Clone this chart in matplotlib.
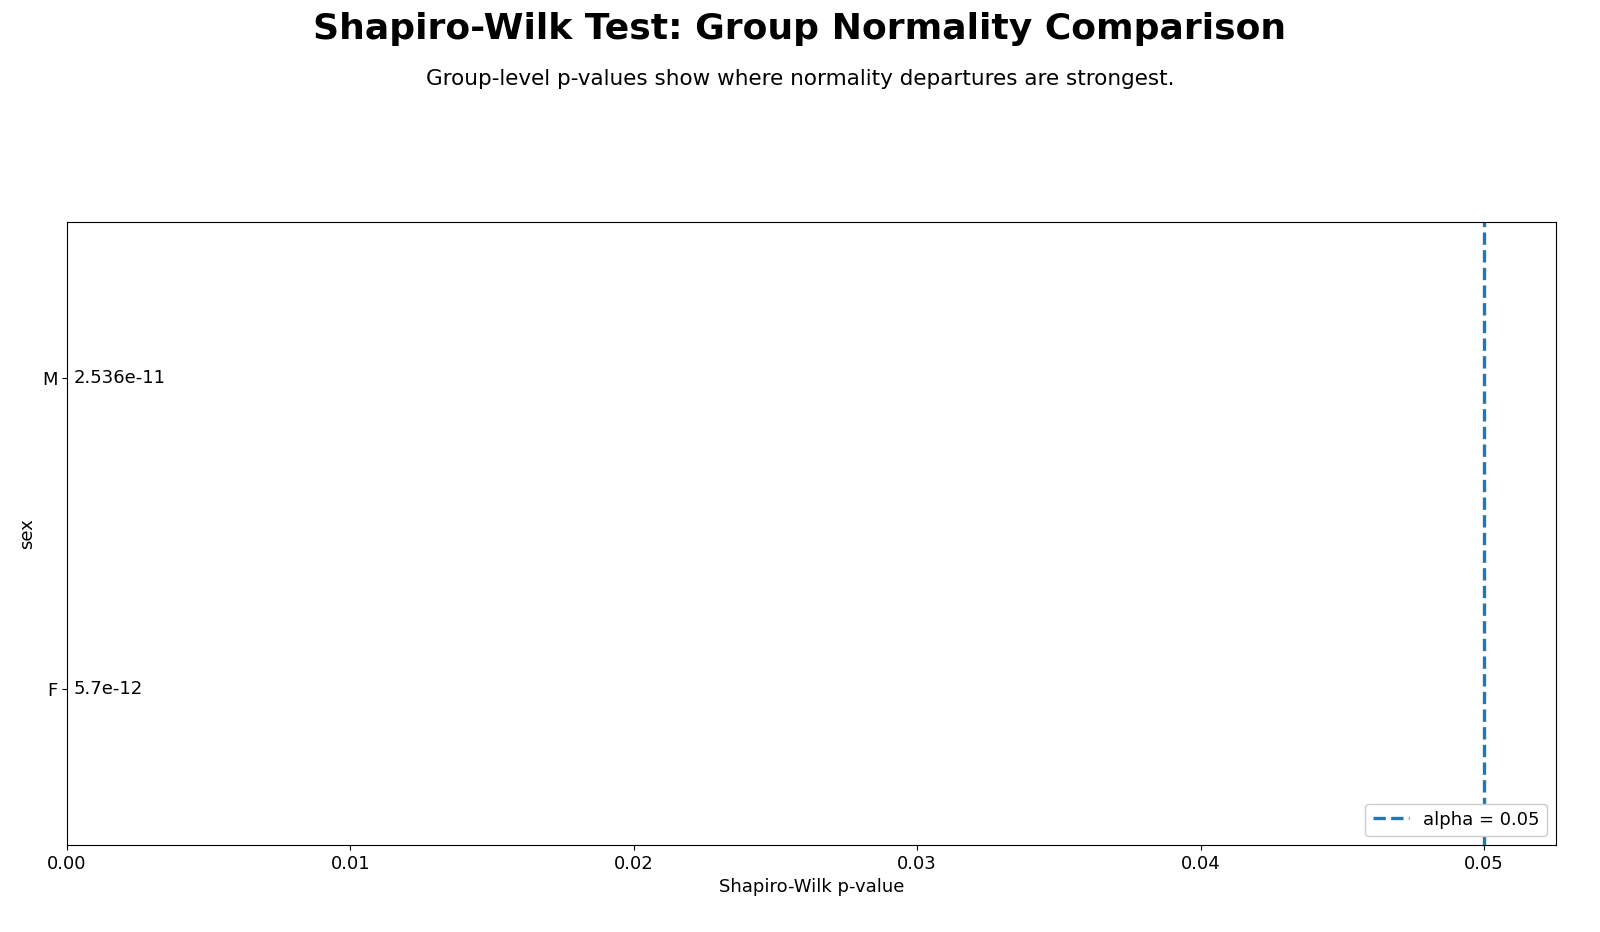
import matplotlib
matplotlib.use("Agg")
import matplotlib.pyplot as plt

groups = ["F", "M"]
pvalues = [5.7e-12, 2.536e-11]
labels = ["5.7e-12", "2.536e-11"]
alpha = 0.05

fs = 13
fig = plt.figure(figsize=(16, 9.32), dpi=100)
ax = fig.add_axes([67/1600, 1-845/932, (1556-67)/1600, (845-222)/932])
ax.barh(range(len(groups)), pvalues, color="#1f77b4", height=0.6)
for i, (p, t) in enumerate(zip(pvalues, labels)):
    ax.annotate(t, (p, i), xytext=(5, 0), textcoords="offset points", va="center", fontsize=fs)
ax.axvline(alpha, ls="--", lw=2.4, color="#1f77b4", label="alpha = 0.05")
ax.set_yticks(range(len(groups)))
ax.set_yticklabels(groups, fontsize=fs)
ax.tick_params(axis="x", labelsize=fs)
ax.set_xlim(0, 0.05254)
ax.set_ylim(-0.5, 1.5)
ax.set_xlabel("Shapiro-Wilk p-value", fontsize=fs)
ax.set_ylabel("sex", fontsize=fs)
ax.legend(loc="lower right", fontsize=fs, framealpha=1)
fig.text(0.5, 1-29/932, "Shapiro-Wilk Test: Group Normality Comparison", ha="center", va="center", fontsize=26, fontweight="bold")
fig.text(0.5, 1-79/932, "Group-level p-values show where normality departures are strongest.", ha="center", va="center", fontsize=15.5)
fig.savefig("out.png", dpi=100)
